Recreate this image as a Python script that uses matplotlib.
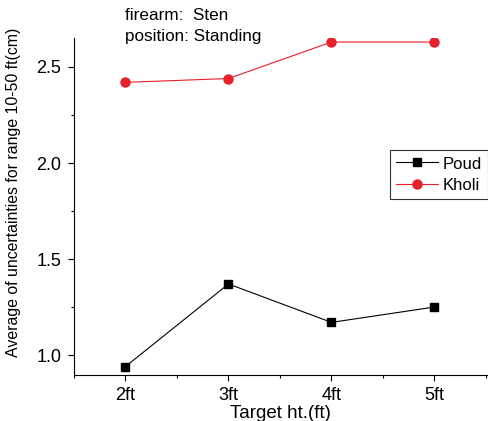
import matplotlib.pyplot as plt
from matplotlib.ticker import MultipleLocator

plt.rcParams['font.family'] = ['Liberation Sans', 'DejaVu Sans']

targets = ["2ft", "3ft", "4ft", "5ft"]
x_pos = [2, 3, 4, 5]
poud = [0.94, 1.37, 1.17, 1.25]
kholi = [2.42, 2.44, 2.63, 2.63]

fig = plt.figure(figsize=(4.89, 4.21), dpi=100)
ax = fig.add_axes([74/489, 46/421, 413/489, 337/421])

ax.plot(x_pos, poud, color='black', lw=0.8, marker='s', ms=6, label='Poud')
ax.plot(x_pos, kholi, color='#e8202a', lw=0.8, marker='o', ms=6.5, label='Kholi')

ax.set_xlim(1.5, 5.51)
ax.set_ylim(0.896, 2.651)
ax.set_xticks(x_pos)
ax.set_xticklabels(targets)
ax.xaxis.set_minor_locator(MultipleLocator(0.5))
ax.yaxis.set_major_locator(MultipleLocator(0.5))
ax.yaxis.set_minor_locator(MultipleLocator(0.25))
ax.yaxis.set_major_formatter(plt.FormatStrFormatter('%.1f'))

for s in ['top', 'right']:
    ax.spines[s].set_visible(False)
ax.spines['left'].set_linewidth(0.8)
ax.spines['bottom'].set_linewidth(0.8)
ax.tick_params(which='major', direction='out', length=4, width=0.8, labelsize=13)
ax.tick_params(which='minor', direction='out', length=2.5, width=0.8)
ax.tick_params(axis='x', pad=5)
ax.tick_params(axis='y', pad=5)

ax.set_xlabel('Target ht.(ft)', fontsize=13.5, labelpad=0)
ax.set_ylabel('Average of uncertainties for range 10-50 ft(cm)', fontsize=11.4)
ax.yaxis.set_label_coords(-53/413, (375 - 192)/337)

fig.text(125/489, 1 - 15/421, 'firearm:  Sten', fontsize=12.3, va='center')
fig.text(125/489, 1 - 37/421, 'position: Standing', fontsize=12.3, va='center')

leg = ax.legend(loc='upper left', bbox_to_anchor=((390 - 74)/413, 1 - (150 - 38)/337),
                bbox_transform=ax.transAxes, fontsize=12, frameon=True, fancybox=False,
                edgecolor='black', handlelength=2.5, borderpad=0.35, labelspacing=0.3,
                handletextpad=0.3, borderaxespad=0, handleheight=1.0)
leg.get_frame().set_linewidth(0.8)

fig.savefig('out.png', dpi=100)
